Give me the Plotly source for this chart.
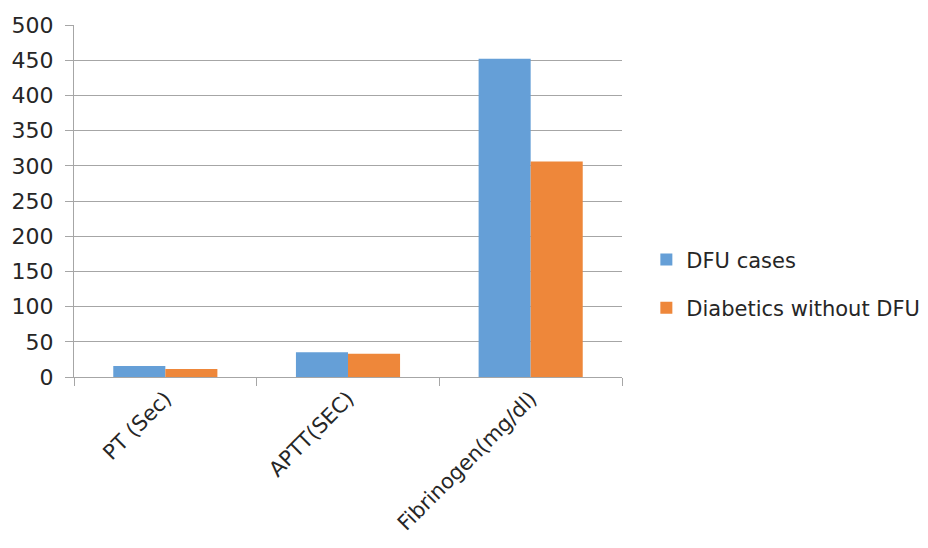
import plotly.graph_objects as go

categories = ["PT (Sec)", "APTT(SEC)", "Fibrinogen(mg/dl)"]
dfu_cases = [15.6, 35, 452]
diabetics_without_dfu = [11.4, 33, 306]
y_ticks = [0, 50, 100, 150, 200, 250, 300, 350, 400, 450, 500]

FAMILY = "DejaVu Sans, Verdana, sans-serif"
TEXT_COLOR = "#262626"
TICK_FONT = dict(family=FAMILY, size=22, color=TEXT_COLOR)
LABEL_FONT = dict(family=FAMILY, size=21, color=TEXT_COLOR)

fig = go.Figure()
fig.add_trace(go.Bar(name="DFU cases", x=categories, y=dfu_cases,
                     marker=dict(color="#659FD7", line=dict(width=0)),
                     legendgroup="a"))
fig.add_trace(go.Bar(name="Diabetics without DFU", x=categories, y=diabetics_without_dfu,
                     marker=dict(color="#EE873A", line=dict(width=0)),
                     legendgroup="b"))

fig.update_layout(
    width=928, height=548,
    margin=dict(l=74, r=306, t=25, b=171, autoexpand=False),
    paper_bgcolor="white", plot_bgcolor="white",
    font=LABEL_FONT,
    barmode="group", bargap=0.43, bargroupgap=0,
    showlegend=True,
    legend=dict(xref="container", yref="container",
                x=0.6965, xanchor="left", y=0.482, yanchor="middle",
                font=LABEL_FONT,
                tracegroupgap=18, itemwidth=30,
                bgcolor="rgba(0,0,0,0)"),
    xaxis=dict(showgrid=False, showline=True, linecolor="#A6A6A6", linewidth=1,
               ticks="outside", tickson="boundaries", ticklen=8, tickcolor="#A6A6A6",
               tickangle=-45, tickfont=LABEL_FONT, automargin=False),
    yaxis=dict(range=[0, 500], tickvals=y_ticks, showgrid=True, gridcolor="#A6A6A6",
               gridwidth=1, showline=True, linecolor="#A6A6A6", linewidth=1,
               ticks="outside", ticklen=8, tickcolor="#A6A6A6", zeroline=False,
               ticklabelstandoff=7, tickfont=TICK_FONT, automargin=False),
)

fig.write_html("out.html")
